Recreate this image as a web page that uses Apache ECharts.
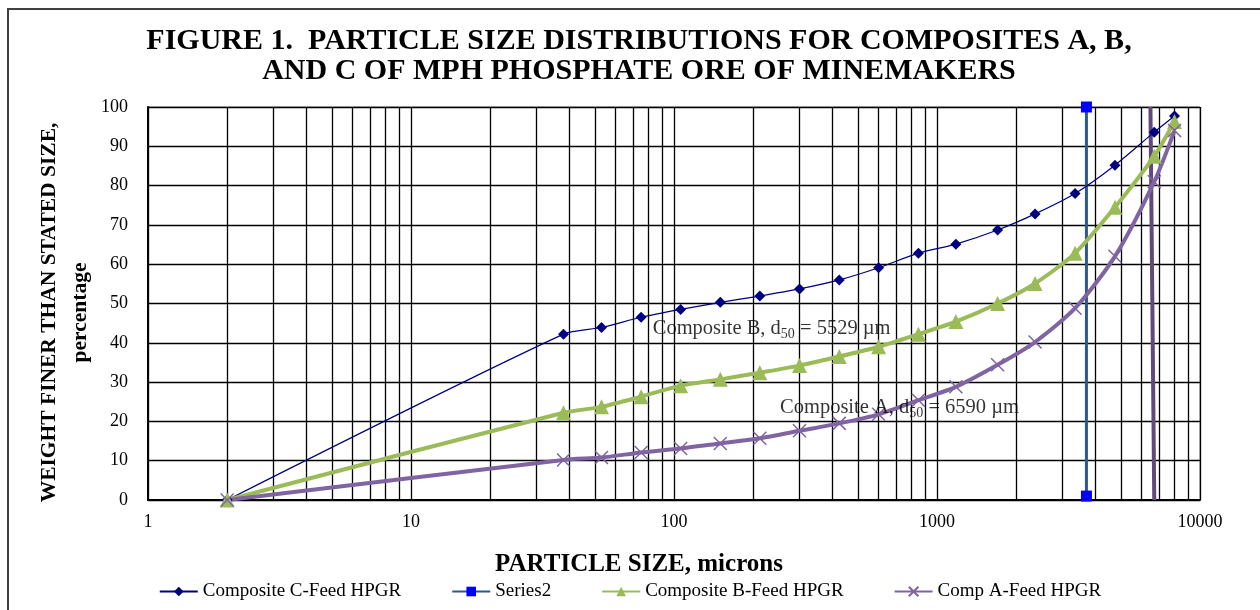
<!DOCTYPE html>
<html>
<head>
<meta charset="utf-8">
<script src="https://cdn.jsdelivr.net/npm/echarts@6/dist/echarts.min.js"></script>
<style>
  html, body { margin: 0; padding: 0; background: #fff; }
  #chart { width: 1260px; height: 610px; }
</style>
</head>
<body>
<div id="chart"></div>
<script>
  // sieve sizes, microns
  const sizes = [2, 38, 53, 75, 106, 150, 212, 300, 425, 600, 850, 1180, 1700, 2360, 3350, 4750, 6700, 8000];
  // % passing
  const compC = [0, 42.2, 43.9, 46.5, 48.5, 50.3, 51.9, 53.7, 56.0, 59.1, 62.8, 65.1, 68.7, 72.8, 78.0, 85.2, 93.6, 97.7];
  const compB = [0, 22.2, 23.7, 26.3, 29.1, 30.7, 32.4, 34.2, 36.5, 39.0, 42.2, 45.4, 50.0, 55.1, 62.8, 74.5, 87.5, 96.3];
  const compA = [0, 10.2, 10.8, 12.1, 13.1, 14.4, 15.7, 17.6, 19.5, 21.8, 25.4, 28.8, 34.4, 40.2, 48.8, 62.0, 81.0, 94.0];
  const series2X = [3700, 3700];
  const series2Y = [1, 100];
  const d50LineX = [6480, 6700];
  const d50LineY = [100, 0];
  // log grid minor lines
  const minorTicks = [2, 3, 4, 5, 6, 7, 8, 9, 20, 30, 40, 50, 60, 70, 80, 90,
    200, 300, 400, 500, 600, 700, 800, 900, 2000, 3000, 4000, 5000, 6000, 7000, 8000, 9000];
  const notes = [
    {x: 83, y: 43.5, d: '5529', name: 'B'},
    {x: 253, y: 23.4, d: '6590', name: 'A'},
  ];

  const pairs = (xs, ys) => xs.map((x, i) => [x, ys[i]]);
  const serif = '"Liberation Serif", "Times New Roman", serif';
  const xMark = 'path://M0,0L10,10M10,0L0,10';

  let chart = echarts.init(document.getElementById('chart'));

  let option = {
    animation: false,
    textStyle: {fontFamily: serif, color: '#000'},
    title: {
      text: 'FIGURE 1.  PARTICLE SIZE DISTRIBUTIONS FOR COMPOSITES A, B,\nAND C OF MPH PHOSPHATE ORE OF MINEMAKERS',
      left: 634,
      top: 21,
      textAlign: 'center',
      textStyle: {fontFamily: serif, fontWeight: 'bold', fontSize: 30, lineHeight: 30, color: '#000'},
    },
    graphic: [{
      type: 'rect',
      shape: {x: 8, y: 9, width: 1300, height: 700},
      style: {fill: 'none', stroke: '#404040', lineWidth: 2},
      silent: true,
    }],
    legend: {
      bottom: 4,
      left: 'center',
      itemGap: 50,
      itemWidth: 38,
      itemHeight: 12,
      textStyle: {fontFamily: serif, fontSize: 19, color: '#000'},
      data: ['Composite C-Feed HPGR', 'Series2', 'Composite B-Feed HPGR', 'Comp A-Feed HPGR'],
    },
    grid: {
      left: 148, right: 60, top: 107, bottom: 110,
      show: true, borderColor: '#808080', borderWidth: 1,
    },
    xAxis: {
      type: 'log',
      logBase: 10,
      min: 1,
      max: 10000,
      name: 'PARTICLE SIZE, microns',
      nameLocation: 'middle',
      nameGap: 52,
      nameMoveOverlap: false,
      nameTextStyle: {fontFamily: serif, fontWeight: 'bold', fontSize: 25, color: '#000', padding: [0, 70, 0, 0]},
      axisLine: {lineStyle: {color: '#000', width: 2}},
      axisTick: {show: false},
      axisLabel: {fontFamily: serif, fontSize: 18, color: '#000', margin: 13, formatter: v => String(v)},
      splitLine: {show: true, lineStyle: {color: '#000', width: 1.3}},
    },
    yAxis: {
      type: 'value',
      min: 0,
      max: 100,
      interval: 10,
      name: 'WEIGHT FINER THAN STATED SIZE,\npercentage',
      nameLocation: 'middle',
      nameRotate: 90,
      nameGap: 52,
      nameMoveOverlap: false,
      nameTextStyle: {fontFamily: serif, fontWeight: 'bold', fontSize: 21.5, lineHeight: 31, color: '#000', padding: [0, 18, 0, 0]},
      axisLine: {show: true, lineStyle: {color: '#000', width: 2}},
      axisTick: {show: false},
      axisLabel: {fontFamily: serif, fontSize: 18, color: '#000', margin: 20},
      splitLine: {show: true, lineStyle: {color: '#000', width: 1.3}},
    },
    series: [
      {
        name: 'grid',
        type: 'line',
        data: [],
        z: 1,
        silent: true,
        markLine: {
          silent: true,
          symbol: ['none', 'none'],
          label: {show: false},
          lineStyle: {color: '#000', width: 1.3, type: 'solid'},
          data: minorTicks.map(v => ({xAxis: v})),
        },
      },
      {
        name: 'Composite C-Feed HPGR',
        type: 'line',
        z: 5,
        smooth: 0.25,
        data: pairs(sizes, compC),
        symbol: 'diamond',
        symbolSize: 11,
        itemStyle: {color: '#000080'},
        lineStyle: {color: '#000080', width: 1.2},
      },
      {
        name: 'Series2',
        type: 'line',
        z: 4,
        data: pairs(series2X, series2Y),
        symbol: 'rect',
        symbolSize: 11,
        itemStyle: {color: '#0000ff'},
        lineStyle: {color: '#2d5a88', width: 3},
      },
      {
        name: 'Composite B-Feed HPGR',
        type: 'line',
        z: 5,
        smooth: 0.25,
        data: pairs(sizes, compB),
        symbol: 'triangle',
        symbolSize: 15,
        itemStyle: {color: '#9bbb59'},
        lineStyle: {color: '#9bbb59', width: 4},
      },
      {
        name: 'Comp A-Feed HPGR',
        type: 'line',
        z: 5,
        smooth: 0.25,
        data: pairs(sizes, compA),
        symbol: xMark,
        symbolSize: 13,
        itemStyle: {color: 'rgba(0,0,0,0)', borderColor: '#8064a2', borderWidth: 1.5},
        lineStyle: {color: '#8064a2', width: 4},
      },
      {
        name: 'd50 A',
        type: 'line',
        z: 4,
        data: pairs(d50LineX, d50LineY),
        symbol: 'none',
        lineStyle: {color: '#604a7b', width: 4},
      },
      {
        name: 'notes',
        type: 'scatter',
        z: 6,
        symbolSize: 0,
        data: notes.map(n => [n.x, n.y, n.d, n.name]),
        label: {
          show: true,
          position: 'right',
          distance: 0,
          formatter: p => '{t|Composite ' + p.value[3] + ', d}{s|50}{t| = ' + p.value[2] + ' µm}',
          rich: {
            t: {fontFamily: serif, fontSize: 20.5, color: '#000', lineHeight: 24, verticalAlign: 'middle'},
            s: {fontFamily: serif, fontSize: 14, color: '#000', lineHeight: 24, verticalAlign: 'bottom'},
          },
        },
      },
    ],
  };

  chart.setOption(option);
</script>
</body>
</html>
